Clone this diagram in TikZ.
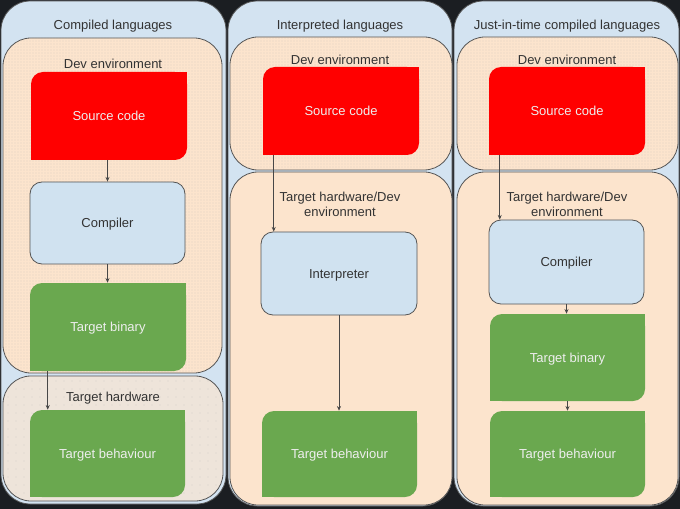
\documentclass[tikz,border=0pt]{standalone}
\usepackage{fontspec}
\setmainfont{Liberation Sans}
\usetikzlibrary{arrows.meta,calc,patterns.meta}
\definecolor{bgdark}{HTML}{1B1E22}
\definecolor{colblue}{HTML}{D3E3F1}
\definecolor{boxblue}{HTML}{D0E2F0}
\definecolor{peach}{HTML}{FCE4CD}
\definecolor{peachlight}{HTML}{EEE4DA}
\definecolor{srcred}{HTML}{FF0000}
\definecolor{bingreen}{HTML}{6AA84F}
\definecolor{edgegray}{HTML}{555555}
\definecolor{txtdark}{HTML}{333333}
\definecolor{txtlight}{HTML}{EEEEEE}
\definecolor{dotgray}{HTML}{A8AEB0}
\tikzset{
  column/.style={fill=colblue,draw=edgegray,line width=0.6pt,rounded corners=22pt},
  devenv/.style={fill=peach,draw=edgegray,line width=0.6pt,rounded corners=21pt},
  dotted overlay/.style={pattern={Dots[distance=2.25pt,radius=0.3pt]},pattern color=dotgray,rounded corners=21pt},
  sparse overlay/.style={pattern={Dots[distance=6pt,radius=0.35pt]},pattern color=dotgray,rounded corners=21pt},
  hwenv/.style={fill=peach,draw=edgegray,line width=0.6pt,rounded corners=21pt},
  hwlight/.style={fill=peachlight,draw=edgegray,line width=0.6pt,rounded corners=21pt},
  title/.style={text=txtdark,font=\fontsize{9.75pt}{11.5pt}\selectfont,align=center,inner sep=0pt,yshift=-1.2pt},
  cardsize/.style 2 args={minimum width={#1*0.75pt},minimum height={#2*0.75pt}},
  cardfill/.style={path picture={
      \fill[#1,rounded corners=9pt] (path picture bounding box.south west) rectangle (path picture bounding box.north east);
      \fill[#1] ([xshift=-10pt,yshift=-10pt]path picture bounding box.north east) rectangle (path picture bounding box.north east);
      \fill[#1] (path picture bounding box.south west) rectangle ([xshift=10pt,yshift=10pt]path picture bounding box.south west);
  }},
  cardtext/.style={font=\fontsize{9.75pt}{11.5pt}\selectfont,inner sep=0pt,text depth=0pt,text height=7pt},
  redcard/.style={cardfill=srcred,text=txtlight,cardtext},
  greencard/.style={cardfill=bingreen,text=txtlight,cardtext},
  bluebox/.style={fill=boxblue,draw=edgegray,line width=0.6pt,rounded corners=9pt,text=txtdark,cardtext},
  arr/.style={draw=txtdark!90,line width=0.6pt,-{Stealth[length=3.5pt,width=3pt]}},
}
\begin{document}
\begin{tikzpicture}[x=0.75pt,y=-0.75pt]
\useasboundingbox (0,0) rectangle (680,509);
\fill[bgdark] (0,0) rectangle (680,509);

% columns
\draw[column] (1,1) rectangle (226,504);
\draw[column] (228,1) rectangle (452,506);
\draw[column] (454,1) rectangle (679,506);

\node[title] (t1) at (113,25) {Compiled languages};
\node[title] (t2) at (340,25) {Interpreted languages};
\node[title] (t3) at (567,25) {Just-in-time compiled languages};

% column 1 containers
\draw[devenv] (3,38) rectangle (222,373);
\fill[dotted overlay] (3,38) rectangle (222,373);
\draw[hwlight] (3,376) rectangle (223,501);
\fill[sparse overlay] (3,376) rectangle (223,501);
\node[title] (d1) at (113,62) {Dev environment};
\node[title] (h1) at (113,397) {Target hardware};

% column 2 containers
\draw[devenv] (230,37) rectangle (452,170);
\fill[dotted overlay] (230,37) rectangle (452,170);
\draw[hwenv] (230,172) rectangle (452,505);
\node[title] (d2) at (340,58) {Dev environment};
\node[title] (h2) at (340,203) {Target hardware/Dev\\environment};

% column 3 containers
\draw[devenv] (457,37) rectangle (678,170);
\fill[dotted overlay] (457,37) rectangle (678,170);
\draw[hwenv] (457,172) rectangle (678,505);
\node[title] (d3) at (567,58) {Dev environment};
\node[title] (h3) at (567,203) {Target hardware/Dev\\environment};

% column 1 boxes
\node[redcard,cardsize={156}{88}] (s1) at (109,116) {Source code};
\node[bluebox,cardsize={155}{82}] (c1) at (107.5,223) {Compiler};
\node[greencard,cardsize={156}{88}] (b1) at (108,327) {Target binary};
\node[greencard,cardsize={155}{87}] (e1) at (107.5,453.5) {Target behaviour};

% column 2 boxes
\node[redcard,cardsize={156}{88}] (s2) at (341,111) {Source code};
\node[bluebox,cardsize={156}{83}] (i2) at (339,273.5) {Interpreter};
\node[greencard,cardsize={155}{86}] (e2) at (339.5,454) {Target behaviour};

% column 3 boxes
\node[redcard,cardsize={156}{88}] (s3) at (567,111) {Source code};
\node[bluebox,cardsize={155}{84}] (c3) at (566.5,262) {Compiler};
\node[greencard,cardsize={155}{87}] (b3) at (567.5,357.5) {Target binary};
\node[greencard,cardsize={155}{86}] (e3) at (567.5,454) {Target behaviour};

% connectors
\draw[arr] (s1.south -| c1.north) -- (c1.north);
\draw[arr] (c1.south) -- (b1.north -| c1.south);
\coordinate (a1) at ($(b1.south west)+(18,0)$);
\draw[arr] (a1) -- (a1 |- e1.north);

\coordinate (a2) at ($(s2.south west)+(11,0)$);
\draw[arr] (a2) -- (a2 |- i2.north);
\draw[arr] (i2.south) -- (i2.south |- e2.north);

\coordinate (a3) at ($(s3.south west)+(11,0)$);
\draw[arr] (a3) -- (a3 |- c3.north);
\draw[arr] (c3.south) -- (c3.south |- b3.north);
\draw[arr] (b3.south) -- (b3.south |- e3.north);
\end{tikzpicture}
\end{document}
